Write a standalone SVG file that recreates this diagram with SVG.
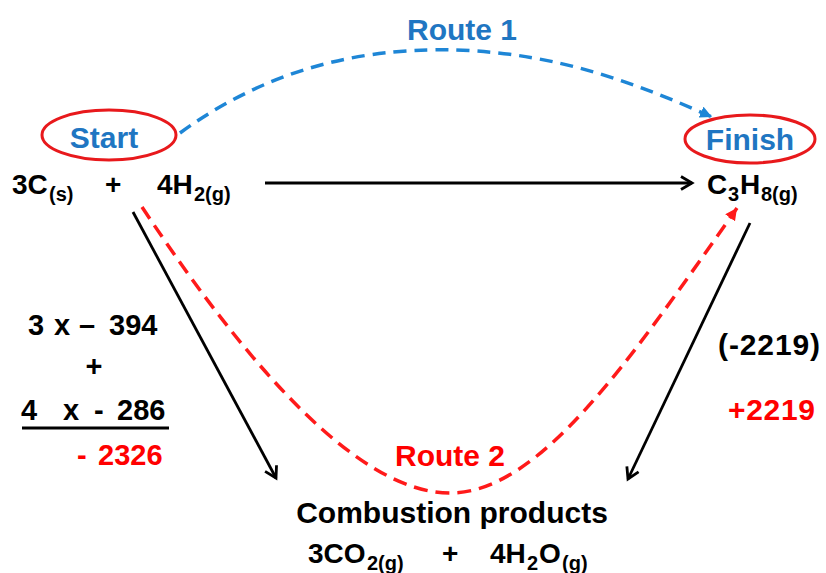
<svg xmlns="http://www.w3.org/2000/svg" width="826" height="573" viewBox="0 0 826 573">
<style>
  text { font-family: "Liberation Sans", Arial, sans-serif; font-weight: bold; }
  .blk { fill: #000; font-size: 28px; }
  .num { fill: #000; font-size: 29px; }
  .sub { font-size: 20px; }
  .blue { fill: #1f76c2; font-size: 30px; }
  .red { fill: #ff0000; }
  .oval { fill: none; stroke: #e8191c; stroke-width: 3; }
  .solid { fill: none; stroke: #000; stroke-width: 2.8; }
  .dashblue { fill: none; stroke: #1e86d6; stroke-width: 3.5; stroke-dasharray: 13 8; }
  .dashred { fill: none; stroke: #ff1a1a; stroke-width: 3.5; stroke-dasharray: 14 8; }
</style>
<defs>
  <marker id="openArrow" markerUnits="userSpaceOnUse" markerWidth="16" markerHeight="16" refX="13" refY="8" orient="auto">
    <path d="M2,1.5 L13,8 L2,14.5" fill="none" stroke="#000" stroke-width="2.8"/>
  </marker>
  <marker id="blueHead" markerUnits="userSpaceOnUse" markerWidth="14" markerHeight="12" refX="12" refY="6" orient="auto">
    <path d="M0,0 L12,6 L0,12 Z" fill="#1e86d6"/>
  </marker>
  <marker id="redHead" markerUnits="userSpaceOnUse" markerWidth="14" markerHeight="12" refX="12" refY="6" orient="auto">
    <path d="M0,0 L12,6 L0,12 Z" fill="#ff1a1a"/>
  </marker>
</defs>

<g id="connectors">
  <path id="route1" class="dashblue" d="M180,133 C280,60 380,48 455,50 C560,53 640,85 712,117" marker-end="url(#blueHead)"/>
  <path id="route2" class="dashred" d="M142,207 C250,370 360,493 450,493 C540,493 630,360 737,208" marker-end="url(#redHead)"/>
  <line id="direct" class="solid" x1="265" y1="183" x2="692" y2="183" marker-end="url(#openArrow)"/>
  <line id="reactantsToProducts" class="solid" x1="133" y1="212" x2="276" y2="478" marker-end="url(#openArrow)"/>
  <line id="propaneToProducts" class="solid" x1="750" y1="223" x2="628" y2="479" marker-end="url(#openArrow)"/>
</g>

<g id="start">
  <ellipse class="oval" cx="109" cy="135" rx="67" ry="25"/>
  <text class="blue" x="104" y="148" text-anchor="middle">Start</text>
</g>

<g id="finish">
  <ellipse class="oval" cx="750" cy="139" rx="65" ry="24"/>
  <text class="blue" x="750" y="150" text-anchor="middle">Finish</text>
</g>

<g id="reactants">
  <text class="blk" y="194"><tspan x="12">3C</tspan><tspan class="sub" x="49" dy="7">(s)</tspan></text>
  <text class="blk" x="105" y="194">+</text>
  <text class="blk" y="194"><tspan x="157">4H</tspan><tspan class="sub" x="194" dy="7">2(g)</tspan></text>
</g>

<g id="propane">
  <text class="blk" y="194"><tspan x="707">C</tspan><tspan class="sub" x="728" dy="7">3</tspan><tspan x="740" dy="-7">H</tspan><tspan class="sub" x="761" dy="7">8(g)</tspan></text>
</g>

<g id="products">
  <text class="blk" x="452" y="523" text-anchor="middle" style="font-size:30px">Combustion products</text>
  <text class="blk" y="563"><tspan x="308">3CO</tspan><tspan class="sub" x="367" dy="7">2(g)</tspan></text>
  <text class="blk" x="442" y="563">+</text>
  <text class="blk" y="563"><tspan x="490">4H</tspan><tspan class="sub" x="527" dy="7">2</tspan><tspan x="539" dy="-7">O</tspan><tspan class="sub" x="562" dy="7">(g)</tspan></text>
</g>

<g id="route1-label">
  <text class="blue" x="462" y="40" text-anchor="middle">Route 1</text>
</g>

<g id="route2-label">
  <text class="red" x="450" y="466" text-anchor="middle" style="font-size:30px">Route 2</text>
</g>

<g id="left-calc">
  <text class="num" y="335"><tspan x="28">3</tspan><tspan x="54">x</tspan><tspan x="79">–</tspan><tspan x="109">394</tspan></text>
  <text class="num" x="94" y="376" text-anchor="middle">+</text>
  <text class="num" y="420"><tspan x="21">4</tspan><tspan x="63">x</tspan><tspan x="94">-</tspan><tspan x="117">286</tspan></text>
  <line x1="22" y1="428" x2="169" y2="428" stroke="#000" stroke-width="3"/>
  <text class="num red" y="465"><tspan x="77">-</tspan><tspan x="98">2326</tspan></text>
</g>

<g id="right-calc">
  <text class="num" x="718" y="355" style="font-size:30px" textLength="102" lengthAdjust="spacing">(-2219)</text>
  <text class="num red" x="728" y="420" style="font-size:30px" textLength="87" lengthAdjust="spacing">+2219</text>
</g>
</svg>
